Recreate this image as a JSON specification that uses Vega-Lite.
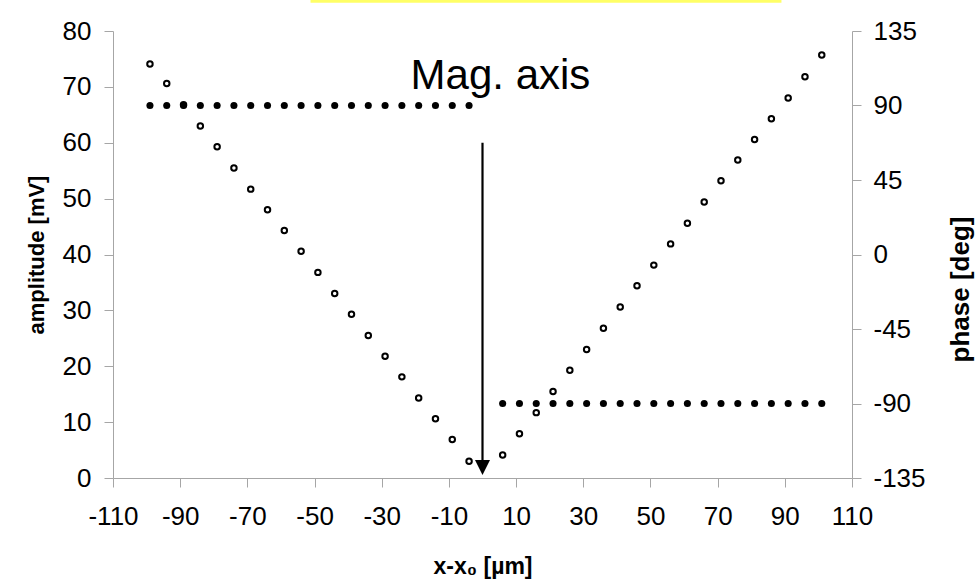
{
  "$schema": "https://vega.github.io/schema/vega-lite/v6.json",
  "width": 739,
  "height": 447,
  "autosize": {"type": "none"},
  "padding": {"left": 113, "top": 31, "right": 126, "bottom": 101},
  "background": "white",
  "config": {
    "view": {"stroke": null},
    "font": "Liberation Sans",
    "axis": {
      "grid": false,
      "domainColor": "#a6a6a6",
      "tickColor": "#a6a6a6",
      "tickSize": 9,
      "labelFont": "Liberation Sans",
      "labelFontSize": 26,
      "labelColor": "#000000",
      "labelExpr": "toString(datum.value)",
      "titleFont": "Liberation Sans",
      "titleFontWeight": "bold",
      "titleFontSize": 22,
      "titleColor": "#000000"
    }
  },
  "datasets": {
    "meas": [
      {"x": -99, "amplitude": 74.1, "phase": 90},
      {"x": -94, "amplitude": 70.6, "phase": 90},
      {"x": -89, "amplitude": 66.8, "phase": 90},
      {"x": -84, "amplitude": 63.0, "phase": 90},
      {"x": -79, "amplitude": 59.3, "phase": 90},
      {"x": -74, "amplitude": 55.5, "phase": 90},
      {"x": -69, "amplitude": 51.7, "phase": 90},
      {"x": -64, "amplitude": 48.0, "phase": 90},
      {"x": -59, "amplitude": 44.3, "phase": 90},
      {"x": -54, "amplitude": 40.6, "phase": 90},
      {"x": -49, "amplitude": 36.8, "phase": 90},
      {"x": -44, "amplitude": 33.0, "phase": 90},
      {"x": -39, "amplitude": 29.3, "phase": 90},
      {"x": -34, "amplitude": 25.5, "phase": 90},
      {"x": -29, "amplitude": 21.8, "phase": 90},
      {"x": -24, "amplitude": 18.1, "phase": 90},
      {"x": -19, "amplitude": 14.3, "phase": 90},
      {"x": -14, "amplitude": 10.6, "phase": 90},
      {"x": -9, "amplitude": 6.9, "phase": 90},
      {"x": -4, "amplitude": 3.0, "phase": 90},
      {"x": 6, "amplitude": 4.1, "phase": -90},
      {"x": 11, "amplitude": 7.9, "phase": -90},
      {"x": 16, "amplitude": 11.7, "phase": -90},
      {"x": 21, "amplitude": 15.5, "phase": -90},
      {"x": 26, "amplitude": 19.3, "phase": -90},
      {"x": 31, "amplitude": 23.0, "phase": -90},
      {"x": 36, "amplitude": 26.8, "phase": -90},
      {"x": 41, "amplitude": 30.6, "phase": -90},
      {"x": 46, "amplitude": 34.4, "phase": -90},
      {"x": 51, "amplitude": 38.1, "phase": -90},
      {"x": 56, "amplitude": 41.9, "phase": -90},
      {"x": 61, "amplitude": 45.6, "phase": -90},
      {"x": 66, "amplitude": 49.4, "phase": -90},
      {"x": 71, "amplitude": 53.2, "phase": -90},
      {"x": 76, "amplitude": 56.9, "phase": -90},
      {"x": 81, "amplitude": 60.6, "phase": -90},
      {"x": 86, "amplitude": 64.3, "phase": -90},
      {"x": 91, "amplitude": 68.0, "phase": -90},
      {"x": 96, "amplitude": 71.8, "phase": -90},
      {"x": 101, "amplitude": 75.7, "phase": -90}
    ]
  },
  "layer": [
    {
      "layer": [
        {
          "data": {"values": [{"x": -51.2, "x2": 89.0, "y": 85.55, "y2": 85.05}]},
          "mark": {"type": "rect", "color": "#ffff66"},
          "encoding": {
            "x": {"field": "x", "type": "quantitative"},
            "x2": {"field": "x2"},
            "y": {"field": "y", "type": "quantitative"},
            "y2": {"field": "y2"}
          }
        },
        {
          "data": {"name": "meas"},
          "mark": {"type": "point", "shape": "circle", "filled": false, "stroke": "#000000", "strokeWidth": 2, "size": 30, "opacity": 1},
          "encoding": {
            "x": {
              "field": "x", "type": "quantitative",
              "scale": {"domain": [-110, 110], "nice": false, "zero": false},
              "axis": {"values": [-110, -90, -70, -50, -30, -10, 10, 30, 50, 70, 90, 110], "title": "x-x₀ [µm]", "titleFontSize": 23, "labelPadding": 16, "titlePadding": 26, "labelFlush": false}
            },
            "y": {
              "field": "amplitude", "type": "quantitative",
              "scale": {"domain": [0, 80], "nice": false},
              "axis": {"values": [0, 10, 20, 30, 40, 50, 60, 70, 80], "title": "amplitude [mV]", "labelPadding": 13, "titlePadding": 14}
            }
          }
        },
        {
          "data": {"values": [{"x": 0, "y": 60, "y2": 2.5}]},
          "mark": {"type": "rule", "color": "#000000", "strokeWidth": 2.2},
          "encoding": {
            "x": {"field": "x", "type": "quantitative"},
            "y": {"field": "y", "type": "quantitative"},
            "y2": {"field": "y2"}
          }
        },
        {
          "data": {"values": [{"x": 0, "y": 1.9}]},
          "mark": {"type": "point", "shape": "M-1,-1L1,-1L0,1Z", "filled": true, "color": "#000000", "size": 225, "opacity": 1},
          "encoding": {
            "x": {"field": "x", "type": "quantitative"},
            "y": {"field": "y", "type": "quantitative"}
          }
        },
        {
          "data": {"values": [{"x": -21.4, "y": 69.6, "label": "Mag. axis"}]},
          "mark": {"type": "text", "align": "left", "baseline": "alphabetic", "font": "Liberation Sans", "fontSize": 42, "color": "#000000"},
          "encoding": {
            "x": {"field": "x", "type": "quantitative"},
            "y": {"field": "y", "type": "quantitative"},
            "text": {"field": "label"}
          }
        }
      ]
    },
    {
      "data": {"name": "meas"},
      "mark": {"type": "point", "shape": "circle", "filled": true, "color": "#000000", "size": 50, "opacity": 1},
      "encoding": {
        "x": {"field": "x", "type": "quantitative"},
        "y": {
          "field": "phase", "type": "quantitative",
          "scale": {"domain": [-135, 135], "nice": false},
          "axis": {"orient": "right", "values": [-135, -90, -45, 0, 45, 90, 135], "title": "phase [deg]", "titleFontSize": 26, "titleAngle": -90, "titleAlign": "center", "titleBaseline": "middle", "titleX": 108, "titleY": 258, "labelPadding": 12}
        }
      }
    }
  ],
  "resolve": {"scale": {"y": "independent"}}
}
